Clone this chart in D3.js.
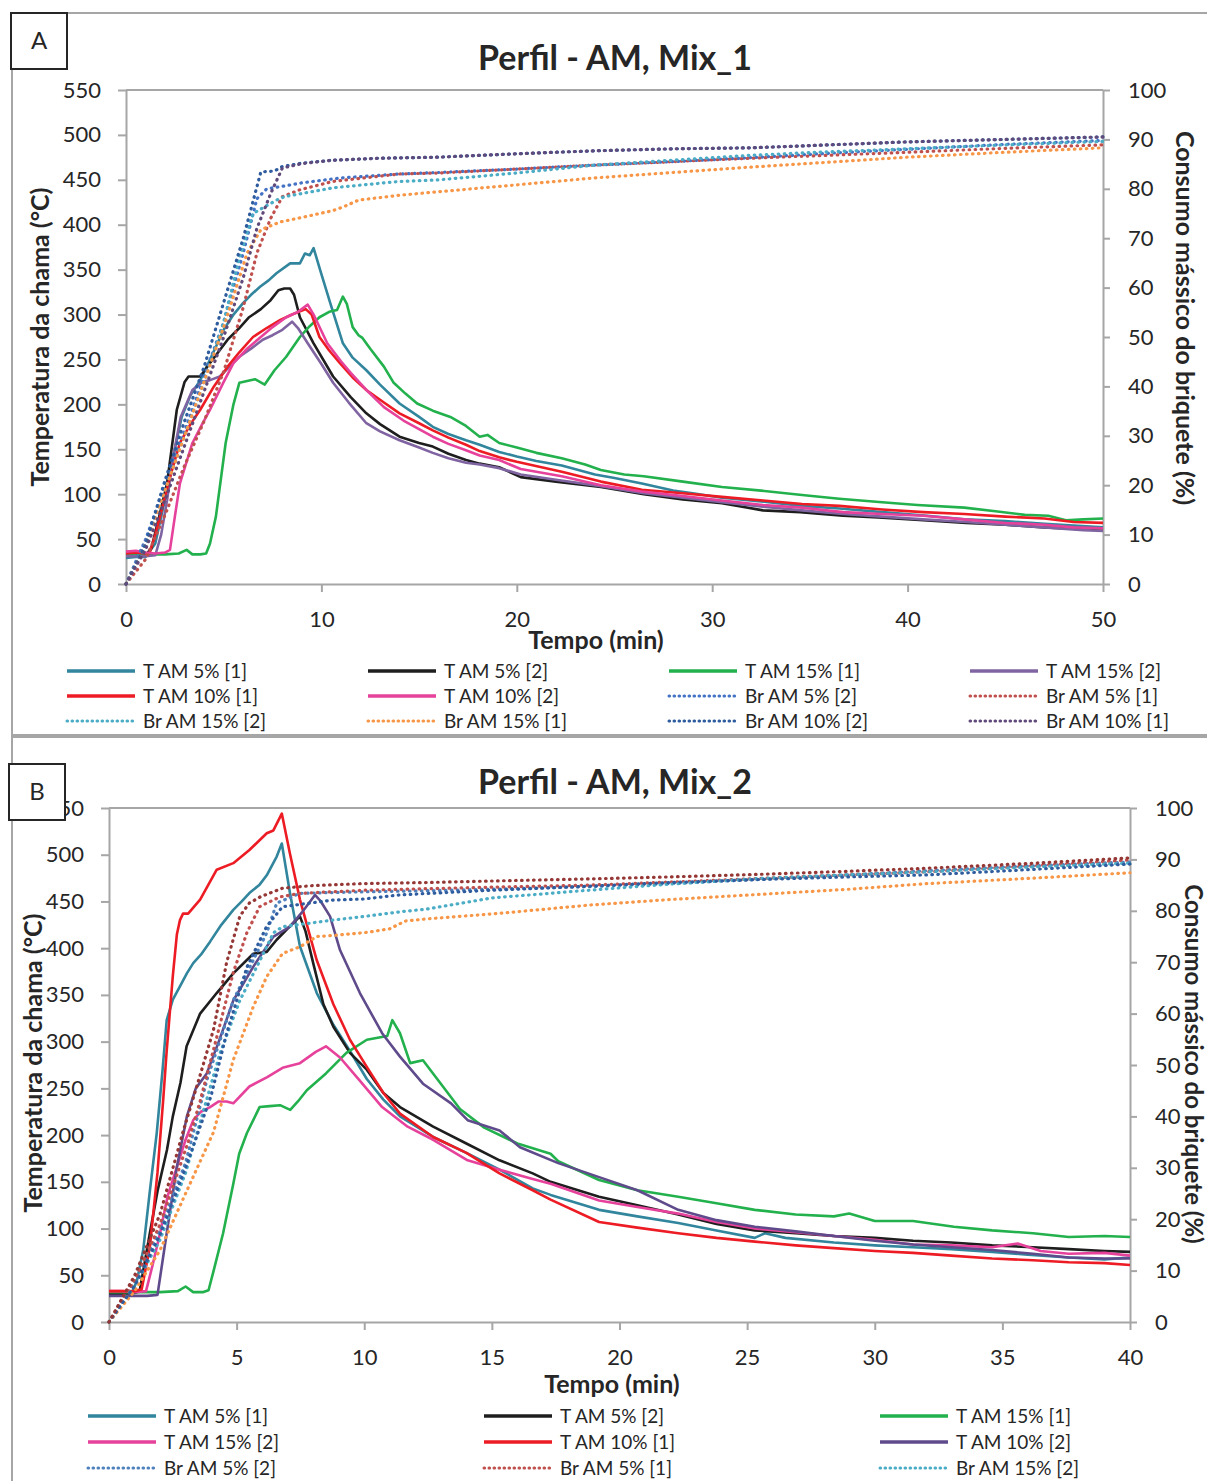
<!DOCTYPE html>
<html>
<head>
<meta charset="utf-8">
<script src="https://cdn.jsdelivr.net/npm/d3@7"></script>
<style>
  body { margin: 0; background: #fff; }
  text { font-family: Lato, "Open Sans", sans-serif; fill: #262626; }
</style>
</head>
<body>
<svg id="fig" width="1207" height="1481"></svg>
<script>
// ---- Panel A (Mix_1): flame temperature, [min, °C]
var a_T5_1 = [[0,29],[0.5,30],[1,30],[1.5,45],[2,95],[2.5,150],[2.85,186],[3.3,210],[3.8,227],[4.3,250],[5,283],[5.5,300],[6,313],[6.4,322],[6.86,331],[7.3,338],[7.7,346],[8.4,357],[8.9,357],[9.16,368],[9.4,366],[9.6,374],[10,345],[10.45,313],[11.1,268],[11.6,252],[12.3,238],[13,222],[14,201],[15,186],[15.7,175],[16.5,167],[17.4,160],[18.1,155],[19.1,147],[20,142],[21,137],[22.3,132],[24,122],[25,118],[26.4,112],[28,104],[29,101],[30.5,96],[32.5,92],[34.6,87],[36.5,84],[38.7,80],[41,76],[42.9,72],[45,70],[47,67],[48.5,65],[50,63]];
var a_T5_2 = [[0,32],[0.5,33],[1,32],[1.3,40],[1.7,75],[2.1,112],[2.6,194],[3,225],[3.2,231],[3.8,231],[4.3,246],[5.2,272],[5.8,285],[6.3,297],[6.9,306],[7.4,316],[7.8,327],[8.1,329],[8.4,329],[8.6,322],[8.9,297],[9.6,268],[10.6,231],[11.5,208],[12.3,190],[13,178],[14,164],[15,157],[15.7,153],[16.5,145],[17.4,138],[18.1,134],[19.1,130],[20.2,119],[22,114],[24.3,108],[26.5,100],[28.5,94],[30.5,90],[32.6,82],[34.5,80],[36.7,76],[38.5,74],[40.8,71],[43,68],[45,66],[47,63],[49,61],[50,62]];
var a_T15_1 = [[0,33],[1,33],[2,33],[2.7,34],[3.1,38],[3.4,33],[3.8,33],[4.1,34],[4.3,45],[4.6,75],[5.1,157],[5.5,200],[5.8,224],[6.2,226],[6.6,228],[7.1,222],[7.6,238],[8.2,253],[8.9,275],[9.4,287],[9.9,297],[10.4,303],[10.8,305],[11.1,320],[11.3,312],[11.6,286],[11.9,277],[12.1,274],[12.5,262],[13.2,242],[13.7,224],[14.3,212],[14.9,201],[15.7,193],[16.6,186],[17.4,176],[18.1,164],[18.5,166],[19.1,157],[20,152],[21,146],[22.3,140],[23.5,133],[24.3,127],[25.5,122],[26.5,120],[28.5,114],[30.5,108],[32.5,104],[34.6,99],[36.5,95],[38.7,91],[40.5,88],[42.9,85],[44.5,81],[46,77],[47.2,76],[48.1,71],[49,72],[50,73]];
var a_T15_2 = [[0,31],[1,31],[1.5,32],[1.8,55],[2.1,93],[2.4,140],[2.8,186],[3.4,216],[3.9,225],[4.3,227],[4.8,231],[5.3,242],[5.8,253],[6.4,262],[7,272],[7.5,277],[8,283],[8.5,292],[8.8,285],[9.3,268],[10,245],[10.6,224],[11.4,202],[12.3,179],[13,170],[14,160],[15,152],[15.7,146],[16.5,140],[17.4,135],[18.1,133],[19.1,129],[20.2,122],[22,116],[24.3,109],[26.5,101],[28.5,96],[30.5,91],[32.6,86],[34.6,82],[36.7,78],[38.7,75],[40.8,72],[43,69],[45,66],[47,63],[49,60],[50,59]];
var a_T10_1 = [[0,34],[0.5,35],[1,34],[1.2,34],[1.5,55],[1.74,75],[2.2,115],[2.76,157],[3.3,178],[3.8,194],[4.5,220],[5.2,242],[5.8,258],[6.5,275],[7.2,285],[7.9,294],[8.5,300],[9.2,306],[9.5,300],[9.9,275],[10.4,260],[10.95,246],[11.6,230],[12.3,216],[13.2,202],[14,190],[15,179],[15.7,171],[16.5,163],[17.4,155],[18.1,148],[19.1,141],[20,136],[22.3,125],[24.3,114],[26.4,105],[28.5,101],[30.5,97],[32.6,93],[34.6,89],[36.5,87],[38.7,83],[40.8,80],[42.9,78],[45,75],[47,73],[48.5,69],[50,68]];
var a_T10_2 = [[0,36],[0.5,37],[1,35],[1.5,34],[2,35],[2.25,38],[2.5,75],[2.76,112],[3.4,157],[3.9,178],[4.3,194],[5,225],[5.5,246],[6.2,262],[6.9,275],[7.5,286],[8.2,297],[8.8,303],[9.3,311],[9.6,300],[10.3,268],[11,248],[11.5,235],[12.3,216],[13.2,197],[14.2,182],[15.7,164],[16.5,156],[17.4,149],[18.1,143],[19.1,138],[20.2,128],[22.3,120],[24.3,110],[26.4,103],[28.5,98],[30.5,93],[32.6,88],[34.6,85],[36.7,80],[38.7,78],[40.8,76],[42.9,72],[45,68],[47,66],[48.5,63],[50,62]];
// Panel A: briquette mass consumption, [min, %]
var a_Br5_2 = [[0,0],[1,9],[2,20],[3,31],[4,42],[5,53],[6,67],[6.7,78],[7.2,80],[8,80.5],[9,81.2],[11,82.2],[14,83],[16,83.3],[20,84],[24,84.8],[28,85.5],[32,86.3],[36,87.2],[40,88],[45,89],[50,89.8]];
var a_Br5_1 = [[0,0],[1,5],[2,14],[3,24],[4,33],[5,43],[6,56],[6.7,67],[7.4,74],[8,78.4],[8.9,79.8],[10.6,81.5],[14,83],[16,83.2],[20,84],[24,84.8],[28,85.5],[32,86.2],[36,86.8],[40,87.4],[45,88.2],[50,88.9]];
var a_Br15_2 = [[0,0],[1,8],[2,19],[3,30],[4,41],[5,53],[5.8,66],[6.5,75],[7.7,77.7],[8.1,78.4],[10.6,80.2],[14,81.5],[16,81.8],[20,83.2],[24,84.8],[28,85.8],[32,86.8],[36,87.5],[40,88.1],[45,88.9],[50,89.6]];
var a_Br15_1 = [[0,0],[1,8],[2,19],[3,30],[4,41],[5,52],[6.2,67],[6.9,71.7],[7.4,72.5],[7.9,73.3],[9,74.2],[10.6,75.6],[11.1,76.3],[11.9,77.7],[14,78.7],[16,79.4],[20,80.8],[24,82.2],[28,83.3],[32,84.4],[36,85.4],[40,86.4],[45,87.4],[50,88.3]];
var a_Br10_2 = [[0,0],[1,8],[2,21],[3,33],[4,44],[5,57],[6,70],[6.9,83.4],[7.6,83.6],[8,84.5],[9,85.2],[10.6,85.8],[13,86.2],[16,86.4],[20,87.1],[24,87.7],[28,88.1],[32,88.3],[36,88.9],[40,89.5],[45,90],[50,90.5]];
var a_Br10_1 = [[0,0],[1,7],[2,17],[3,28],[4,39],[5,50],[6,62],[6.7,72],[7.4,79],[8,84.2],[9,85.1],[10.6,85.8],[13,86.2],[16,86.4],[20,87.1],[24,87.7],[28,88.1],[32,88.3],[36,88.9],[40,89.5],[45,90],[50,90.5]];

// ---- Panel B (Mix_2): flame temperature, [min, °C]
var b_T5_1 = [[0,30],[0.5,30],[0.9,31],[1.1,45],[1.34,77],[1.6,140],[1.87,202],[2.1,270],[2.26,323],[2.5,345],[2.78,359],[3.05,373],[3.3,384],[3.6,393],[3.96,407],[4.4,425],[4.87,441],[5.2,450],[5.5,459],[5.9,468],[6.18,478],[6.57,498],[6.77,512],[7.09,459],[7.48,402],[8.14,352],[8.79,318],[9.44,290],[10.1,260],[10.75,238],[11.4,220],[12.7,198],[14,181],[15.3,163],[16.6,143],[17.3,136],[19.2,120],[20.7,113],[22.3,106],[23.8,98],[25.3,90],[25.7,95],[26.5,90],[28.4,85],[30,82],[31.5,80],[33,78],[34.6,75],[36,72],[37.6,69],[39,67],[40,69]];
var b_T5_2 = [[0,30],[0.5,30],[1,31],[1.2,33],[1.6,95],[1.9,140],[2.27,184],[2.5,220],[2.8,256],[3.04,295],[3.57,330],[4.22,352],[4.87,373],[5.65,394],[6.18,396],[6.57,409],[6.96,420],[7.48,434],[7.7,418],[8,384],[8.4,340],[8.79,316],[9.44,288],[10.1,270],[10.75,245],[11.4,230],[12.7,209],[14,191],[15.3,173],[16.6,159],[17.3,150],[19.2,134],[20.7,125],[22.3,115],[23.8,105],[25.3,98],[26.9,95],[28.4,92],[30,90],[31.5,87],[33,85],[34.6,82],[36.2,80],[37.6,78],[39,76],[40,75]];
var b_T15_1 = [[0,32],[1,32],[2,32],[2.7,33],[3,38],[3.3,32],[3.7,32],[3.9,34],[4.1,55],[4.47,95],[4.87,148],[5.1,180],[5.4,202],[5.9,230],[6.3,231],[6.7,232],[7.1,227],[7.4,236],[7.75,248],[8.5,266],[9.3,288],[10.1,302],[10.9,306],[11.1,323],[11.4,309],[11.8,277],[12.3,280],[13,255],[13.75,228],[14.7,208],[16,191],[17.3,180],[17.6,172],[19.2,152],[20.7,141],[22.3,134],[23.8,127],[25.3,120],[26.9,115],[28.4,113],[29,116],[30,108],[31.5,108],[33.1,102],[34.6,98],[36.2,95],[37.6,91],[39,92],[40,91]];
var b_T15_2 = [[0,33],[0.5,33],[1,32],[1.45,33],[1.7,60],[2,95],[2.3,135],[2.66,166],[3,195],[3.3,216],[3.6,225],[3.96,230],[4.3,236],[4.6,236],[4.87,234],[5.5,252],[6.2,262],[6.8,272],[7.48,277],[8.1,289],[8.5,295],[9.05,283],[9.8,259],[10.7,230],[11.7,209],[12.7,195],[14.05,173],[15.3,163],[16.6,153],[17.3,148],[19.2,130],[20.7,123],[22.3,116],[23.8,107],[25.3,100],[26.9,96],[28.4,92],[30,88],[31.5,83],[33,82],[34.6,80],[35.6,84],[36.5,76],[37.6,73],[39,74],[40,71]];
var b_T10_1 = [[0,33],[0.5,33],[1,33],[1.28,35],[1.6,80],[1.9,160],[2.13,240],[2.26,290],[2.5,370],[2.66,415],[2.78,430],[2.9,437],[3.1,437],[3.57,452],[4.22,484],[4.87,491],[5.5,505],[6.18,523],[6.44,526],[6.77,544],[7.09,501],[7.48,452],[8.14,387],[8.79,340],[9.44,302],[10.1,273],[10.75,245],[11.4,223],[12.7,198],[14,181],[15.3,159],[16.6,141],[17.3,131],[19.2,107],[20.7,101],[22.3,95],[23.8,90],[25.3,86],[26.9,82],[28.4,79],[30,76],[31.5,74],[33,71],[34.6,68],[36.2,66],[37.6,64],[39,63],[40,61]];
var b_T10_2 = [[0,28],[1,28],[1.5,28],[1.9,29],[2.26,95],[2.66,166],[3.05,220],[3.4,250],[3.83,266],[4.3,300],[4.87,344],[5.65,380],[6.43,412],[7.09,423],[7.55,438],[8.07,457],[8.3,450],[8.66,434],[9.05,398],[9.83,352],[10.7,309],[11.4,284],[12.3,255],[13.4,234],[14.05,216],[15.3,205],[16.1,187],[17.6,170],[19.2,155],[20.7,141],[22.3,120],[23.8,109],[25.3,102],[26.9,97],[28.4,92],[30,87],[31.5,83],[33,80],[34.6,77],[36.2,73],[37.6,69],[39,68],[40,68]];
// Panel B: briquette mass consumption, [min, %]
var b_Br5_2 = [[0,0],[1,8],[2,18],[3,31],[3.83,47],[4.87,62.6],[5.65,70.4],[6.18,75.7],[6.57,81.5],[7.48,83.4],[10,83.7],[12.4,83.9],[15,84.2],[18.8,84.7],[22,85.3],[25.5,86.1],[29,87],[32.1,87.8],[36,88.7],[40,89.5]];
var b_Br5_1 = [[0,0],[1,8],[2,19],[3.1,35],[3.57,43],[4.2,55],[4.87,68],[5.4,75.7],[5.9,80.8],[6.18,81.5],[6.7,82.7],[7.48,83.4],[10,84],[12.4,84.3],[15,84.6],[18.8,85],[22,85.6],[25.5,86.3],[29,87],[32.1,87.6],[36,88.7],[40,89.9]];
var b_Br15_2 = [[0,0],[1,7],[2,16],[3,29],[4.35,52.3],[5.13,62.6],[5.92,70.4],[6.44,75.7],[6.8,76.9],[8.79,78.2],[10,78.9],[11.4,79.8],[12.4,80.3],[15,82.5],[18.8,84],[22,85.2],[25.5,86.3],[29,87],[32.1,87.6],[36,88.5],[40,89.3]];
var b_Br15_1 = [[0,0],[1,6],[2,14],[3,25],[4.1,37],[4.87,51],[5.65,61.3],[6.18,67.2],[6.8,71.7],[7.48,73],[8.14,75],[8.8,75.2],[10.1,75.8],[11,76.5],[11.6,78],[12.4,78.4],[15.3,79.5],[18.8,81.1],[22,82.2],[25.5,83.2],[29,84.2],[32.1,85.3],[36,86.3],[40,87.4]];
var b_Br10_2 = [[0,0],[1,7],[2,17],[3,30],[4,44],[4.6,56],[5.4,69],[6.18,77],[6.8,80.8],[8.79,82.1],[10,82.3],[11.4,83.1],[15,84],[18.8,84.8],[22,85.5],[25.5,86.1],[29,86.6],[32.1,87],[36,88],[40,89.1]];
var b_Br10_1 = [[0,0],[1,9],[2,21],[2.9,37],[3.57,48],[4.1,57],[4.61,70],[5.13,79],[5.5,81.5],[5.92,82.7],[6.8,84.4],[8,84.9],[10,85.3],[12.4,85.5],[15,85.8],[18.8,86.2],[22,86.6],[25.5,87.1],[29,87.7],[32.1,88.3],[36,89.2],[40,90.3]];

// axis ticks
var tempTicks = d3.range(0, 551, 50);
var massTicks = d3.range(0, 101, 10);
var timeTicksA = d3.range(0, 51, 10);
var timeTicksB = d3.range(0, 41, 5);

var grey = "#A6A6A6";
var svg = d3.select("#fig");

// series in legend order (row by row)
var seriesA = [
  { name: "T AM 5% [1]",   data: a_T5_1,   color: "#31859C" },
  { name: "T AM 5% [2]",   data: a_T5_2,   color: "#1E1E1E" },
  { name: "T AM 15% [1]",  data: a_T15_1,  color: "#22B14C" },
  { name: "T AM 15% [2]",  data: a_T15_2,  color: "#8064A2" },
  { name: "T AM 10% [1]",  data: a_T10_1,  color: "#ED1C24" },
  { name: "T AM 10% [2]",  data: a_T10_2,  color: "#E6429B" },
  { name: "Br AM 5% [2]",  data: a_Br5_2,  color: "#4472C4", dot: true },
  { name: "Br AM 5% [1]",  data: a_Br5_1,  color: "#C0504D", dot: true },
  { name: "Br AM 15% [2]", data: a_Br15_2, color: "#4BACC6", dot: true },
  { name: "Br AM 15% [1]", data: a_Br15_1, color: "#F79646", dot: true },
  { name: "Br AM 10% [2]", data: a_Br10_2, color: "#2E5C9E", dot: true },
  { name: "Br AM 10% [1]", data: a_Br10_1, color: "#604A7B", dot: true }
];
var seriesB = [
  { name: "T AM 5% [1]",   data: b_T5_1,   color: "#31859C" },
  { name: "T AM 5% [2]",   data: b_T5_2,   color: "#1E1E1E" },
  { name: "T AM 15% [1]",  data: b_T15_1,  color: "#22B14C" },
  { name: "T AM 15% [2]",  data: b_T15_2,  color: "#E6429B" },
  { name: "T AM 10% [1]",  data: b_T10_1,  color: "#ED1C24" },
  { name: "T AM 10% [2]",  data: b_T10_2,  color: "#5F4B8B" },
  { name: "Br AM 5% [2]",  data: b_Br5_2,  color: "#4F81BD", dot: true },
  { name: "Br AM 5% [1]",  data: b_Br5_1,  color: "#C0504D", dot: true },
  { name: "Br AM 15% [2]", data: b_Br15_2, color: "#4BACC6", dot: true },
  { name: "Br AM 15% [1]", data: b_Br15_1, color: "#F79646", dot: true },
  { name: "Br AM 10% [2]", data: b_Br10_2, color: "#2E5C9E", dot: true },
  { name: "Br AM 10% [1]", data: b_Br10_1, color: "#953735", dot: true }
];

function styleAxis(g) {
  g.select(".domain").attr("stroke", grey).attr("stroke-width", 2);
  g.selectAll(".tick line").attr("stroke", grey).attr("stroke-width", 2);
  g.selectAll(".tick text").style("font-size", "22px").attr("fill", "#262626");
}

function drawPanel(p) {
  var g = svg.append("g");
  var x = d3.scaleLinear().domain([0, p.xMax]).range([p.left, p.right]);
  var yT = d3.scaleLinear().domain([0, 550]).range([p.bottom, p.top]);
  var yM = d3.scaleLinear().domain([0, 100]).range([p.bottom, p.top]);

  // plot top border
  g.append("line").attr("x1", p.left).attr("x2", p.right)
    .attr("y1", p.top).attr("y2", p.top)
    .attr("stroke", grey).attr("stroke-width", 2);

  g.append("g").attr("transform", "translate(" + p.left + ",0)")
    .call(d3.axisLeft(yT).tickValues(tempTicks).tickSize(8).tickSizeOuter(0).tickPadding(17))
    .call(styleAxis);
  g.append("g").attr("transform", "translate(" + p.right + ",0)")
    .call(d3.axisRight(yM).tickValues(massTicks).tickSize(7).tickSizeOuter(0).tickPadding(18))
    .call(styleAxis);
  g.append("g").attr("transform", "translate(0," + p.bottom + ")")
    .call(d3.axisBottom(x).tickValues(p.xTicks).tickSize(8).tickSizeOuter(0).tickPadding(19))
    .call(styleAxis);

  var lineT = d3.line().x(function(d) { return x(d[0]); }).y(function(d) { return yT(d[1]); });
  var lineM = d3.line().x(function(d) { return x(d[0]); }).y(function(d) { return yM(d[1]); });

  // temperatures first, mass consumption (secondary axis) on top
  var solid = p.series.filter(function(s) { return !s.dot; });
  var dotted = p.series.filter(function(s) { return s.dot; });

  g.selectAll(".temp").data(solid).enter().append("path")
    .attr("class", "temp")
    .attr("d", function(s) { return lineT(s.data); })
    .attr("fill", "none")
    .attr("stroke", function(s) { return s.color; })
    .attr("stroke-width", 2.6)
    .attr("stroke-linejoin", "round");

  g.selectAll(".mass").data(dotted).enter().append("path")
    .attr("class", "mass")
    .attr("d", function(s) { return lineM(s.data); })
    .attr("fill", "none")
    .attr("stroke", function(s) { return s.color; })
    .attr("stroke-width", 3.2)
    .attr("stroke-dasharray", "0.6 5.4")
    .attr("stroke-linecap", "round");

  // titles
  g.append("text").attr("x", 615).attr("y", p.titleY).attr("text-anchor", "middle")
    .style("font-size", "34px").style("font-weight", "bold").text(p.title);
  g.append("text").attr("x", p.xTitleX).attr("y", p.xTitleY).attr("text-anchor", "middle")
    .style("font-size", "25px").style("font-weight", "bold").text("Tempo (min)");
  g.append("text")
    .attr("transform", "translate(" + p.yTitleX + "," + p.yTitleY + ") rotate(-90)")
    .attr("text-anchor", "middle").attr("dy", "0.35em")
    .style("font-size", "25px").style("font-weight", "bold").text("Temperatura da chama (°C)");
  g.append("text")
    .attr("transform", "translate(" + p.y2TitleX + "," + p.y2TitleY + ") rotate(90)")
    .attr("text-anchor", "middle").attr("dy", "0.35em")
    .style("font-size", p.y2Size).style("font-weight", "bold").text("Consumo mássico do briquete (%)");

  // legend
  var leg = g.selectAll(".leg").data(p.series).enter().append("g")
    .attr("class", "leg")
    .attr("transform", function(s, i) {
      var col = i % p.legCols, row = Math.floor(i / p.legCols);
      return "translate(" + (p.legX + col * p.legDX) + "," + (p.legY + row * p.legDY) + ")";
    });
  leg.append("line").attr("x1", 0).attr("x2", 68).attr("y1", 0).attr("y2", 0)
    .attr("stroke", function(s) { return s.color; })
    .attr("stroke-width", function(s) { return s.dot ? 3 : 3.5; })
    .attr("stroke-dasharray", function(s) { return s.dot ? "0.6 4.4" : null; })
    .attr("stroke-linecap", function(s) { return s.dot ? "round" : "butt"; });
  leg.append("text").attr("x", 76).attr("y", 0).attr("dy", "0.35em")
    .style("font-size", "19px").text(function(s) { return s.name; });

  // panel letter box
  g.append("rect").attr("x", p.boxX).attr("y", p.boxY).attr("width", 56).attr("height", 56)
    .attr("fill", "#fff").attr("stroke", "#262626").attr("stroke-width", 2);
  g.append("text").attr("x", p.boxX + 28).attr("y", p.boxY + 28).attr("dy", "0.35em")
    .attr("text-anchor", "middle").style("font-size", "24px").text(p.letter);
}

// figure frame
svg.append("line").attr("x1", 67).attr("x2", 1207).attr("y1", 13).attr("y2", 13)
  .attr("stroke", grey).attr("stroke-width", 2);
svg.append("line").attr("x1", 12).attr("x2", 12).attr("y1", 69).attr("y2", 1481)
  .attr("stroke", grey).attr("stroke-width", 2);
svg.append("rect").attr("x", 12).attr("y", 734).attr("width", 1195).attr("height", 4)
  .attr("fill", grey);

drawPanel({
  series: seriesA, xMax: 50, xTicks: timeTicksA,
  left: 126, right: 1103, top: 90, bottom: 584,
  title: "Perfil - AM, Mix_1", titleY: 70,
  xTitleX: 596, xTitleY: 649,
  yTitleX: 40, yTitleY: 337, y2TitleX: 1185, y2TitleY: 318, y2Size: "25px",
  legX: 67, legY: 671, legDX: 301, legDY: 25, legCols: 4,
  boxX: 11, boxY: 13, letter: "A"
});
drawPanel({
  series: seriesB, xMax: 40, xTicks: timeTicksB,
  left: 109, right: 1130, top: 808, bottom: 1322,
  title: "Perfil - AM, Mix_2", titleY: 794,
  xTitleX: 612, xTitleY: 1393,
  yTitleX: 33, yTitleY: 1063, y2TitleX: 1193, y2TitleY: 1064, y2Size: "24px",
  legX: 88, legY: 1416, legDX: 396, legDY: 26, legCols: 3,
  boxX: 9, boxY: 764, letter: "B"
});
</script>
</body>
</html>
